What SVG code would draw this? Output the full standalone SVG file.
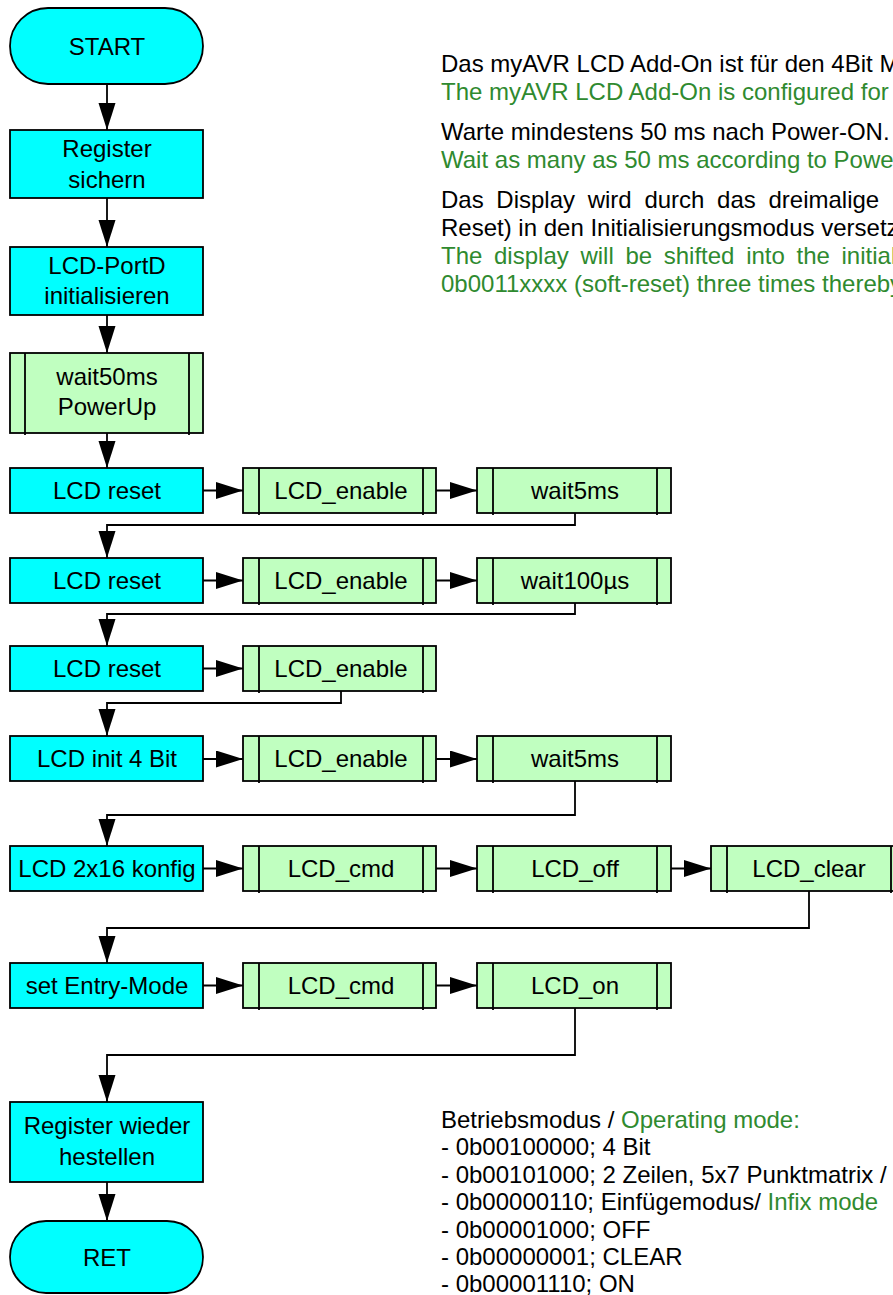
<svg xmlns="http://www.w3.org/2000/svg" width="893" height="1295" viewBox="0 0 893 1295">
<defs>
<marker id="ah" markerUnits="userSpaceOnUse" markerWidth="28" markerHeight="18" refX="27" refY="8.5" orient="auto">
<path d="M0,0 L27,8.5 L0,17 z" fill="#000"/>
</marker>
<style>
.t{fill:#00ffff;stroke:#000;stroke-width:1.8}
.p{fill:#00ffff;stroke:#000;stroke-width:1.8}
.s{fill:#c0ffc0;stroke:#000;stroke-width:1.8}
.b{stroke:#000;stroke-width:1.8;fill:none}
.c{fill:none;stroke:#000;stroke-width:1.8;marker-end:url(#ah)}
text{font-family:"Liberation Sans",Arial,sans-serif;font-size:24px;fill:#000}
.m{text-anchor:middle}
.g{fill:#2f8a2f}
</style>
</defs>
<rect width="893" height="1295" fill="#fff"/>
<g id="connectors">
<path class="c" d="M107,84 V130"/>
<path class="c" d="M107,198 V247"/>
<path class="c" d="M107,315 V353"/>
<path class="c" d="M107,433 V468"/>
<path class="c" d="M203,490.5 H243"/>
<path class="c" d="M436,490.5 H477"/>
<path class="c" d="M575,513 V525 H107 V558"/>
<path class="c" d="M203,580.5 H243"/>
<path class="c" d="M436,580.5 H477"/>
<path class="c" d="M575,603 V614 H107 V646"/>
<path class="c" d="M203,668.5 H243"/>
<path class="c" d="M341,691 V703 H107 V736"/>
<path class="c" d="M203,759 H243"/>
<path class="c" d="M436,759 H477"/>
<path class="c" d="M575,781 V815 H107 V846"/>
<path class="c" d="M203,868.5 H243"/>
<path class="c" d="M436,868.5 H477"/>
<path class="c" d="M671,868.5 H711"/>
<path class="c" d="M809,891 V928 H107 V963"/>
<path class="c" d="M203,985.5 H243"/>
<path class="c" d="M436,985.5 H477"/>
<path class="c" d="M575,1008 V1055 H107 V1102"/>
<path class="c" d="M107,1182 V1221"/>
</g>
<g id="start"><rect class="t" x="10" y="8" width="193" height="76" rx="38"/><text class="m" x="107" y="55">START</text></g>
<g id="reg_save"><rect class="p" x="10" y="130" width="193" height="68"/><text class="m" x="107" y="157">Register</text><text class="m" x="107" y="188">sichern</text></g>
<g id="portd"><rect class="p" x="10" y="247" width="193" height="68"/><text class="m" x="107" y="274">LCD-PortD</text><text class="m" x="107" y="304">initialisieren</text></g>
<g id="wait50"><rect class="s" x="10" y="353" width="193" height="80"/><path class="b" d="M25,353 V435 M189,353 V435"/><text class="m" x="107" y="385">wait50ms</text><text class="m" x="107" y="415">PowerUp</text></g>

<g id="reset1"><rect class="p" x="10" y="468" width="193" height="45"/><text class="m" x="107" y="499">LCD reset</text></g>
<g id="enable1"><rect class="s" x="243" y="468" width="193" height="45"/><path class="b" d="M259,468 V515 M423,468 V515"/><text class="m" x="341" y="499">LCD_enable</text></g>
<g id="wait5ms1"><rect class="s" x="477" y="468" width="194" height="45"/><path class="b" d="M493,468 V515 M657,468 V515"/><text class="m" x="575" y="499">wait5ms</text></g>

<g id="reset2"><rect class="p" x="10" y="558" width="193" height="45"/><text class="m" x="107" y="589">LCD reset</text></g>
<g id="enable2"><rect class="s" x="243" y="558" width="193" height="45"/><path class="b" d="M259,558 V605 M423,558 V605"/><text class="m" x="341" y="589">LCD_enable</text></g>
<g id="wait100"><rect class="s" x="477" y="558" width="194" height="45"/><path class="b" d="M493,558 V605 M657,558 V605"/><text class="m" x="575" y="589">wait100µs</text></g>

<g id="reset3"><rect class="p" x="10" y="646" width="193" height="45"/><text class="m" x="107" y="677">LCD reset</text></g>
<g id="enable3"><rect class="s" x="243" y="646" width="193" height="45"/><path class="b" d="M259,646 V693 M423,646 V693"/><text class="m" x="341" y="677">LCD_enable</text></g>

<g id="init4"><rect class="p" x="10" y="736" width="193" height="45"/><text class="m" x="107" y="767">LCD init 4 Bit</text></g>
<g id="enable4"><rect class="s" x="243" y="736" width="193" height="45"/><path class="b" d="M259,736 V783 M423,736 V783"/><text class="m" x="341" y="767">LCD_enable</text></g>
<g id="wait5ms2"><rect class="s" x="477" y="736" width="194" height="45"/><path class="b" d="M493,736 V783 M657,736 V783"/><text class="m" x="575" y="767">wait5ms</text></g>

<g id="konfig"><rect class="p" x="10" y="846" width="193" height="45"/><text class="m" x="107" y="877">LCD 2x16 konfig</text></g>
<g id="cmd1"><rect class="s" x="243" y="846" width="193" height="45"/><path class="b" d="M259,846 V893 M423,846 V893"/><text class="m" x="341" y="877">LCD_cmd</text></g>
<g id="off"><rect class="s" x="477" y="846" width="194" height="45"/><path class="b" d="M493,846 V893 M657,846 V893"/><text class="m" x="575" y="877">LCD_off</text></g>
<g id="clear"><rect class="s" x="711" y="846" width="193" height="45"/><path class="b" d="M727,846 V893 M891,846 V893"/><text class="m" x="809" y="877">LCD_clear</text></g>

<g id="entry"><rect class="p" x="10" y="963" width="193" height="45"/><text class="m" x="107" y="994">set Entry-Mode</text></g>
<g id="cmd2"><rect class="s" x="243" y="963" width="193" height="45"/><path class="b" d="M259,963 V1010 M423,963 V1010"/><text class="m" x="341" y="994">LCD_cmd</text></g>
<g id="on"><rect class="s" x="477" y="963" width="194" height="45"/><path class="b" d="M493,963 V1010 M657,963 V1010"/><text class="m" x="575" y="994">LCD_on</text></g>

<g id="reg_restore"><rect class="p" x="10" y="1102" width="193" height="80"/><text class="m" x="107" y="1134">Register wieder</text><text class="m" x="107" y="1165">hestellen</text></g>
<g id="ret"><rect class="t" x="10" y="1221" width="193" height="72" rx="36"/><text class="m" x="107" y="1266">RET</text></g>

<g id="note_top">
<text x="441" y="72">Das myAVR LCD Add-On ist für den 4Bit M</text>
<text class="g" x="441" y="100">The myAVR LCD Add-On is configured for</text>
<text x="441" y="140">Warte mindestens 50 ms nach Power-ON.</text>
<text class="g" x="441" y="168">Wait as many as 50 ms according to Powe</text>
<text x="441" y="208" word-spacing="6">Das Display wird durch das dreimalige</text>
<text x="441" y="236">Reset) in den Initialisierungsmodus versetz</text>
<text class="g" x="441" y="264" word-spacing="5">The display will be shifted into the initial</text>
<text class="g" x="441" y="292">0b0011xxxx (soft-reset) three times thereby</text>
</g>
<g id="note_bottom">
<text x="441" y="1128">Betriebsmodus / <tspan class="g">Operating mode:</tspan></text>
<text x="441" y="1155">- 0b00100000; 4 Bit</text>
<text x="441" y="1183">- 0b00101000; 2 Zeilen, 5x7 Punktmatrix / </text>
<text x="441" y="1210">- 0b00000110; Einfügemodus/ <tspan class="g">Infix mode</tspan></text>
<text x="441" y="1238">- 0b00001000; OFF</text>
<text x="441" y="1265">- 0b00000001; CLEAR</text>
<text x="441" y="1292">- 0b00001110; ON</text>
</g>
</svg>
